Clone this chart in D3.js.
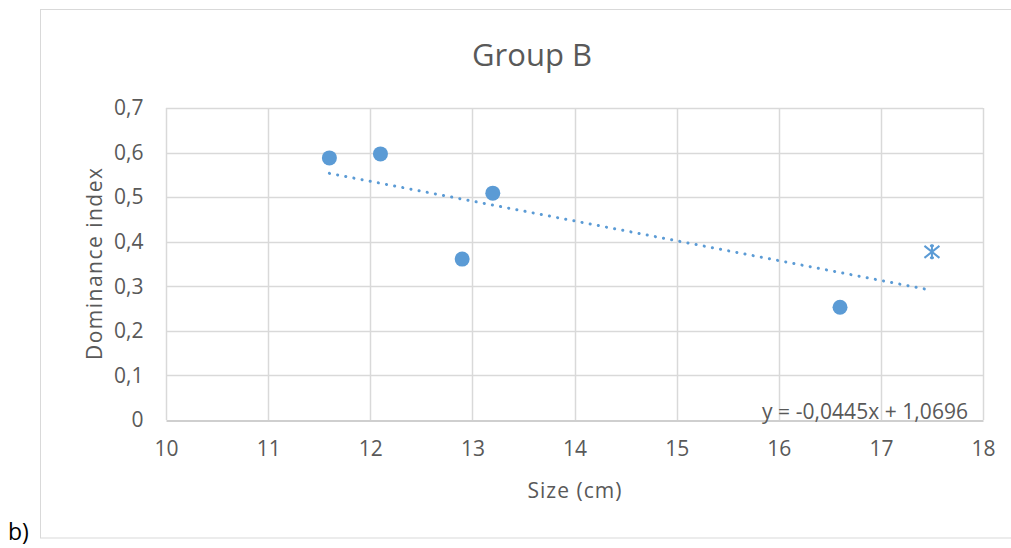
<!DOCTYPE html>
<html><head><meta charset="utf-8">
<script src="https://cdn.jsdelivr.net/npm/d3@7"></script>
<style>
html,body{margin:0;padding:0;background:#fff;}
svg text{font-family:"Open Sans",Lato,sans-serif;fill:#595959;}
</style></head>
<body><svg id="c" width="1011" height="548"></svg>
<script>
const title = "Group B";
const xLabel = "Size (cm)";
const yLabel = "Dominance index";
const sizes = [11.6, 12.1, 12.9, 13.2, 16.6];
const dominance = [0.588, 0.597, 0.361, 0.509, 0.253];
const outlierSize = [17.5];
const outlierDominance = [0.375];
const xTicks = [10, 11, 12, 13, 14, 15, 16, 17, 18];
const yTicks = [0, 0.1, 0.2, 0.3, 0.4, 0.5, 0.6, 0.7];
const trendSlope = -0.0445;
const trendIntercept = 1.0696;
const trendRange = [11.6, 17.5];
const equationText = "y = -0,0445x + 1,0696";
const panelLabel = "b)";

const svg = d3.select("#c");
const blue = "#5b9bd5";
const fmt = v => d3.format(".1f")(v).replace(".", ",").replace(/^0,0$/, "0");

const x = d3.scaleLinear().domain([10, 18]).range([166, 983]);
const y = d3.scaleLinear().domain([0, 0.7]).range([420, 108]);

// chart border
svg.append("rect").attr("x", 40.5).attr("y", 9.5).attr("width", 1000).attr("height", 528.5)
  .attr("fill", "none").attr("stroke", "#d9d9d9").attr("stroke-width", 1);

// gridlines
svg.append("g").selectAll("line").data(yTicks.slice(1)).join("line")
  .attr("x1", x(10)).attr("x2", x(18)).attr("y1", d => Math.round(y(d)) + 0.5).attr("y2", d => Math.round(y(d)) + 0.5)
  .attr("stroke", "#d9d9d9").attr("stroke-width", 1.5);
svg.append("g").selectAll("line").data(xTicks).join("line")
  .attr("y1", y(0)).attr("y2", y(0.7)).attr("x1", d => Math.round(x(d)) + 0.5).attr("x2", d => Math.round(x(d)) + 0.5)
  .attr("stroke", "#d9d9d9").attr("stroke-width", 1.5);

// axes
const xAxis = svg.append("g").attr("transform", `translate(0,${Math.round(y(0)) + 0.5})`)
  .call(d3.axisBottom(x).tickValues(xTicks).tickSize(0).tickPadding(21).tickFormat(d3.format("d")));
xAxis.select(".domain").attr("stroke", "#bfbfbf").attr("stroke-width", 1.5);
xAxis.selectAll("text").attr("font-size", 21).attr("fill", "#595959");

const yAxis = svg.append("g").attr("transform", `translate(${Math.round(x(10)) + 0.5},0)`)
  .call(d3.axisLeft(y).tickValues(yTicks).tickSize(0).tickPadding(23).tickFormat(fmt));
yAxis.select(".domain").remove();
yAxis.selectAll("text").attr("font-size", 21).attr("fill", "#595959");

// trendline
svg.append("path")
  .datum(trendRange.map(v => [v, trendSlope * v + trendIntercept]))
  .attr("d", d3.line().x(d => x(d[0])).y(d => y(d[1])))
  .attr("fill", "none").attr("stroke", blue).attr("stroke-width", 3)
  .attr("stroke-dasharray", "0.1 8.2").attr("stroke-linecap", "round");

// points
svg.append("g").selectAll("circle").data(sizes.map((s, i) => [s, dominance[i]])).join("circle")
  .attr("cx", d => x(d[0])).attr("cy", d => y(d[1])).attr("r", 7.5).attr("fill", blue);

// outlier star markers
const star = svg.append("g").selectAll("g").data(outlierSize.map((s, i) => [s, outlierDominance[i]])).join("g")
  .attr("transform", d => `translate(${x(d[0])},${y(d[1]) - 1})`);
const hw = 7.5, hh = 6;
star.append("path")
  .attr("d", `M${-hw},${-hh}L${hw},${hh}M${-hw},${hh}L${hw},${-hh}M0,${-hh - 1.5}L0,${hh + 1.5}M${-2},${-hh}L${2},${-hh}M${-2},${hh}L${2},${hh}`)
  .attr("stroke", blue).attr("stroke-width", 2).attr("fill", "none");

// equation
svg.append("text").attr("x", 762).attr("y", 419)
  .attr("font-size", 21).attr("textLength", 206).attr("lengthAdjust", "spacing").text(equationText);

// titles
svg.append("text").attr("x", 532).attr("y", 66).attr("text-anchor", "middle")
  .attr("font-size", 31).text(title);
svg.append("text").attr("x", (x(10) + x(18)) / 2).attr("y", 498).attr("text-anchor", "middle")
  .attr("font-size", 21).attr("textLength", 94).attr("lengthAdjust", "spacing").text(xLabel);
svg.append("text").attr("transform", `translate(102,${(y(0) + y(0.7)) / 2}) rotate(-90)`)
  .attr("text-anchor", "middle").attr("font-size", 21).attr("textLength", 192).attr("lengthAdjust", "spacing").text(yLabel);

// panel label
svg.append("text").attr("x", 8).attr("y", 540).attr("font-size", 23).style("fill", "#000").text(panelLabel);
</script></body></html>
